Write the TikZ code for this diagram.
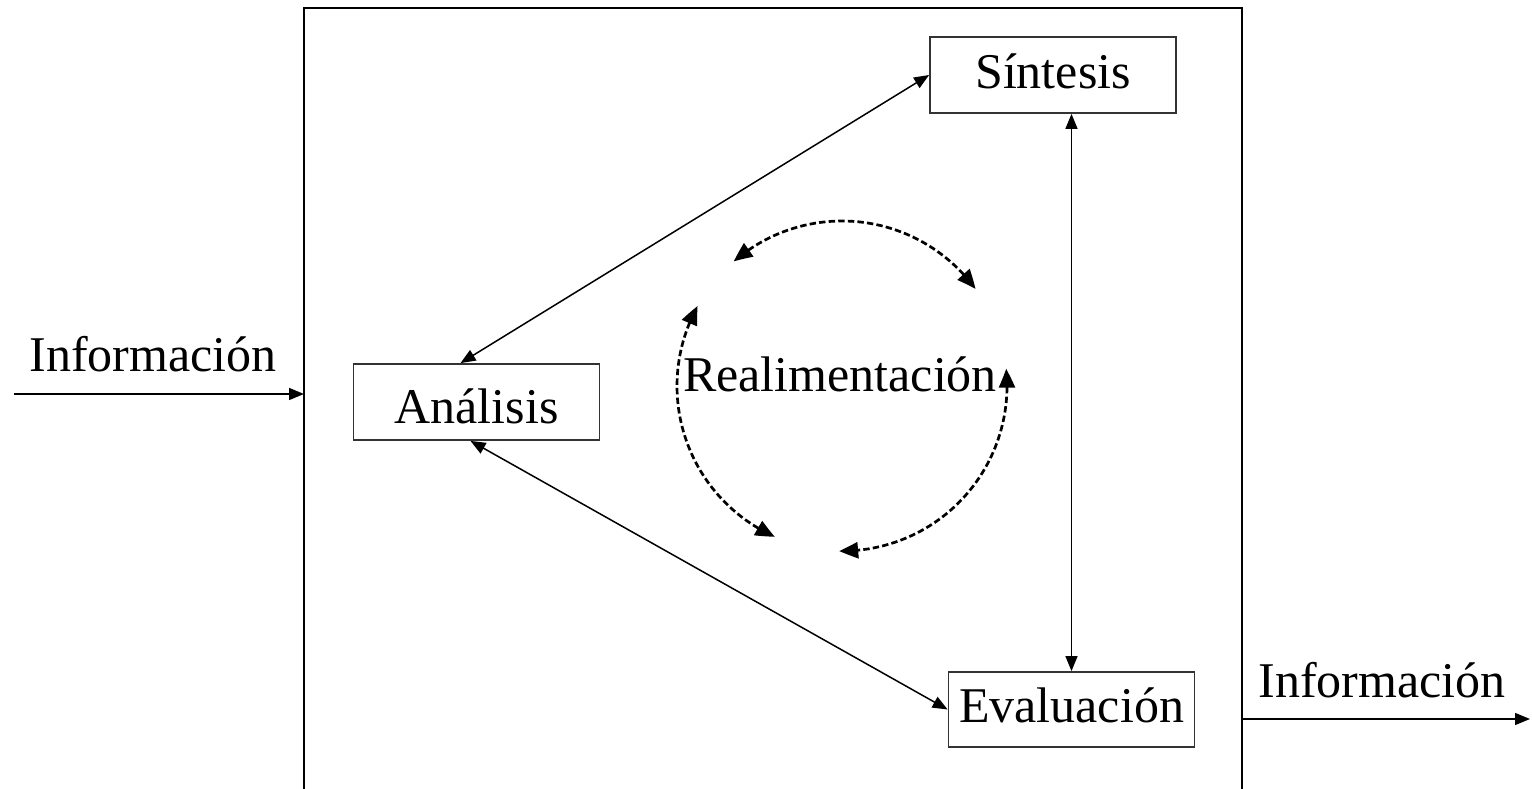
\documentclass[tikz,border=0pt]{standalone}
\usepackage{fontspec}
\setmainfont{Liberation Serif}
\usetikzlibrary{arrows.meta,bending}
\begin{document}
\begin{tikzpicture}[x=0.5pt,y=0.5pt,
  every node/.style={font=\fontsize{25}{30}\selectfont},
  procbox/.style={draw=black!80,line width=0.9pt,minimum width=123pt,minimum height=38pt,inner sep=0pt,text height=24pt},
  conn/.style={line width=0.75pt,{Triangle[length=7.5pt,width=6pt]}-{Triangle[length=7.5pt,width=6pt]}},
  oneway/.style={line width=0.75pt,-{Triangle[length=7.5pt,width=6pt]}},
  fb/.style={line width=1.35pt,dash pattern=on 3.2pt off 1.6pt,{Triangle[length=9.5pt,width=8pt,bend]}-{Triangle[length=9.5pt,width=8pt,bend]}},
  frame/.style={line width=1.4pt}]
\useasboundingbox (0,0) rectangle (1532,788);
% outer frame
\draw[frame] (304,-20) -- (304,780) -- (1242,780) -- (1242,-20);
% boxes
\node[procbox,text depth=10pt] (sy) at (1053,713) {Síntesis};
\node[procbox,text depth=2.5pt] (an) at (476.5,386) {Análisis};
\node[procbox,minimum height=37.5pt,text depth=11.5pt] (ev) at (1071.5,78.5) {Evaluación};
% input / output
\coordinate (inS) at (14,394);
\coordinate (inE) at (304,394);
\coordinate (outS) at (1242,69);
\coordinate (outE) at (1530,69);
\draw[oneway] (inS) -- (inE);
\draw[oneway] (outS) -- (outE);
\node[anchor=base] (infoL) at (153,416) {Información};
\node[anchor=base] (infoR) at (1382,91) {Información};
% connectors
\draw[conn] ([xshift=-8pt]an.north) -- (sy.west);
\draw[conn] ([xshift=-3pt]an.south) -- (ev.west);
\draw[conn] (ev.north |- sy.south) -- (ev.north);
% feedback
\coordinate (c) at (842,402);
\node[anchor=base] (re) at (840,396) {Realimentación};
\draw[fb] (c) ++(131:82.5pt) arc[start angle=131,end angle=36,radius=82.5pt];
\draw[fb] (c) ++(151:82.5pt) arc[start angle=151,end angle=246,radius=82.5pt];
\draw[fb] (c) ++(6:82.5pt) arc[start angle=6,end angle=-91,radius=82.5pt];
\end{tikzpicture}
\end{document}
